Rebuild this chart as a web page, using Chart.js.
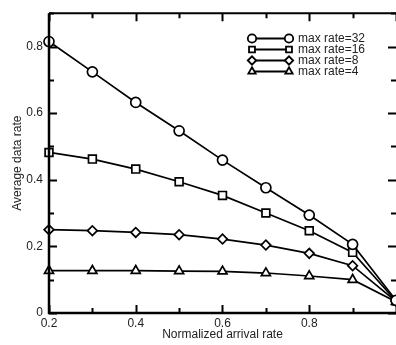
<!DOCTYPE html>
<html>
<head>
<meta charset="utf-8">
<script src="https://cdn.jsdelivr.net/npm/chart.js@4/dist/chart.umd.min.js"></script>
<style>
  html, body { margin: 0; padding: 0; background: #fff; overflow: hidden; }
  #wrap { width: 396px; height: 345px; position: relative; }
</style>
</head>
<body>
<div id="wrap"><canvas id="rateChart"></canvas></div>
<script>
// ===== data =====
const arrivalRates = [0.2, 0.3, 0.4, 0.5, 0.6, 0.7, 0.8, 0.9, 1.0];
const rate32 = [0.815, 0.724, 0.632, 0.547, 0.459, 0.376, 0.294, 0.206, 0.038];
const rate16 = [0.482, 0.462, 0.432, 0.394, 0.353, 0.300, 0.247, 0.182, 0.036];
const rate8  = [0.250, 0.247, 0.242, 0.235, 0.222, 0.204, 0.179, 0.142, 0.035];
const rate4  = [0.127, 0.127, 0.127, 0.126, 0.125, 0.120, 0.111, 0.100, 0.034];
const seriesNames = ["max rate=32", "max rate=16", "max rate=8", "max rate=4"];
const seriesStyles = ["circle", "rect", "rectRot", "triangle"];
const xTickVals = [0.2, 0.4, 0.6, 0.8];
const yTickVals = [0, 0.2, 0.4, 0.6, 0.8];

const FONT = "'Liberation Sans', Arial, Helvetica, sans-serif";
const INK = "#000";
const TXT = "#222";

// ===== helpers =====
function rateToPoints(values) {
  return values.map((v, i) => ({ x: arrivalRates[i], y: v }));
}

function rateDataset(label, values, style, radius) {
  return {
    label,
    data: rateToPoints(values),
    borderColor: INK,
    borderWidth: 1.7,
    pointStyle: style,
    pointRadius: radius,
    pointBorderWidth: 1.7,
    pointBorderColor: INK,
    pointBackgroundColor: "#fff",
    tension: 0,
    fill: false,
    clip: false
  };
}

// ===== frame + inward ticks (gnuplot style) =====
const rateFramePlugin = {
  id: "rateFrame",
  afterDraw(chart) {
    const { ctx, chartArea: a, scales: { x, y } } = chart;
    ctx.save();
    ctx.strokeStyle = INK;
    ctx.lineCap = "butt";

    // axis lines
    ctx.lineWidth = 2.5;
    ctx.beginPath();
    ctx.moveTo(a.left, a.top); ctx.lineTo(a.left, a.bottom); ctx.lineTo(a.right, a.bottom);
    ctx.stroke();
    ctx.lineWidth = 2;
    ctx.beginPath();
    ctx.moveTo(a.left, a.top); ctx.lineTo(a.right, a.top);
    ctx.stroke();

    // ticks
    ctx.lineWidth = 2;
    for (let k = 2; k <= 10; k++) {
      const v = k / 10;
      const px = Math.round(x.getPixelForValue(v)) + 0.5;
      const len = k % 2 === 0 ? 8 : 5;
      ctx.beginPath();
      ctx.moveTo(px, a.bottom); ctx.lineTo(px, a.bottom - len);
      ctx.moveTo(px, a.top); ctx.lineTo(px, a.top + len);
      ctx.stroke();
    }
    for (let k = 0; k <= 9; k++) {
      const v = k / 10;
      const py = Math.round(y.getPixelForValue(v)) + 0.5;
      const len = k % 2 === 0 ? 8 : 5;
      ctx.beginPath();
      ctx.moveTo(a.left, py); ctx.lineTo(a.left + len, py);
      ctx.moveTo(a.right, py); ctx.lineTo(a.right - len, py);
      ctx.stroke();
    }
    ctx.restore();
  }
};

// ===== legend: line with a marker at each end =====
const rateLegendPlugin = {
  id: "rateLegend",
  afterDraw(chart) {
    const { ctx } = chart;
    const rows = [38.5, 49.5, 60.5, 71.5];
    const x0 = 252, x1 = 289, tx = 298;
    ctx.save();
    ctx.font = "12px " + FONT;
    ctx.textBaseline = "middle";
    ctx.textAlign = "left";
    seriesNames.forEach((name, i) => {
      const yy = rows[i];
      ctx.strokeStyle = INK;
      ctx.lineWidth = 1.8;
      ctx.beginPath();
      ctx.moveTo(x0, yy); ctx.lineTo(x1, yy);
      ctx.stroke();
      const opts = { pointStyle: seriesStyles[i], radius: 4.2, rotation: 0, borderWidth: 2.2 };
      ctx.fillStyle = "#fff";
      [x0, x1].forEach(px => Chart.helpers.drawPoint(ctx, opts, px, yy));
      ctx.fillStyle = TXT;
      ctx.fillText(name, tx, yy + 0.5);
    });
    ctx.restore();
  }
};

// ===== chart =====
new Chart(document.getElementById("rateChart"), {
  type: "line",
  data: {
    datasets: [
      rateDataset(seriesNames[0], rate32, seriesStyles[0], 5),
      rateDataset(seriesNames[1], rate16, seriesStyles[1], 5.5),
      rateDataset(seriesNames[2], rate8, seriesStyles[2], 4.8),
      rateDataset(seriesNames[3], rate4, seriesStyles[3], 5.2)
    ]
  },
  options: {
    responsive: true,
    maintainAspectRatio: false,
    animation: false,
    layout: { autoPadding: false, padding: { top: 7, right: 0, left: 0, bottom: 0 } },
    plugins: { legend: { display: false }, tooltip: { enabled: false } },
    scales: {
      x: {
        type: "linear",
        min: 0.2,
        max: 1.0,
        grid: { display: false, drawTicks: false },
        border: { display: false },
        afterBuildTicks: s => { s.ticks = xTickVals.map(v => ({ value: v })); },
        afterFit: s => { s.height = 32; },
        ticks: {
          padding: 3,
          color: TXT,
          font: { family: FONT, size: 12 },
          maxRotation: 0,
          callback: v => String(v)
        },
        title: {
          display: true,
          text: "Normalized arrival rate",
          color: TXT,
          font: { family: FONT, size: 12 },
          padding: { top: 0, bottom: 3 }
        }
      },
      y: {
        min: 0,
        max: 0.9,
        grid: { display: false, drawTicks: false },
        border: { display: false },
        afterBuildTicks: s => { s.ticks = yTickVals.map(v => ({ value: v })); },
        afterFit: s => { s.width = 49; },
        ticks: {
          padding: 6,
          color: TXT,
          font: { family: FONT, size: 12 },
          callback: v => String(v)
        },
        title: {
          display: true,
          text: "Average data rate",
          color: TXT,
          font: { family: FONT, size: 12 },
          padding: { top: 10, bottom: 0 }
        }
      }
    }
  },
  plugins: [rateFramePlugin, rateLegendPlugin]
});
</script>
</body>
</html>
